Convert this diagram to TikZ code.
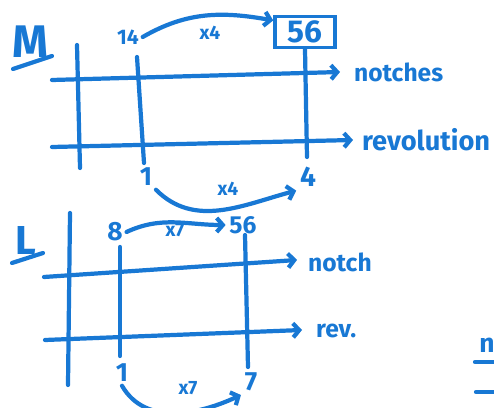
\documentclass[tikz,border=0pt]{standalone}
\usepackage{fontspec}
\setmainfont{Fira Sans}
\usetikzlibrary{arrows.meta}

\definecolor{marker}{RGB}{24,120,212}

\tikzset{
  stroke/.style={marker,line width=2.4pt,line cap=round},
  tip/.style={-{Straight Barb[length=3.5pt,width=8pt]}},
  num/.style={marker,font=\fontsize{#1}{#1}\selectfont\bfseries,inner sep=2pt},
  num/.default=14,
  word/.style={marker,font=\fontsize{14}{14}\selectfont\bfseries,anchor=west,inner sep=1pt},
  times/.style={marker,font=\fontsize{11}{11}\selectfont\bfseries,inner sep=1pt},
}

\begin{document}
\begin{tikzpicture}[x=0.02cm,y=-0.02cm]
  \useasboundingbox (0,0) rectangle (494,408);
  % M table
  \node[num=26] (mname) at (30,42) {M};
  \draw[stroke] (13,69) -- (52,56);
  \coordinate (mn0) at (52,80);   \coordinate (mn1) at (340,72);
  \coordinate (mr0) at (52,147);  \coordinate (mr1) at (353,140);
  \coordinate (mv0) at (77,45);   \coordinate (mv1) at (80,168);
  \coordinate (mw0) at (137,57);  \coordinate (mw1) at (144,163);
  \coordinate (mu1) at (307,157);
  \draw[stroke,tip] (mn0) -- (mn1);
  \draw[stroke,tip] (mr0) -- (mr1);
  \node[word] (notches) at (352,72) {notches};
  \node[word,font=\fontsize{15.5}{15}\selectfont\bfseries] (revolution) at (360,140) {revolution};
  \draw[stroke] (mv0) -- (mv1);
  \draw[stroke] (mw0) -- (mw1);
  \node[num=12] (m14) at (128,37) {14};
  \node[num=18,draw,line width=2pt,minimum width=1.2cm,minimum height=0.62cm] (m56) at (305,32) {56};
  \draw[stroke] (m56.south) -- (mu1);
  \node[num=15] (m1) at (146,177) {1};
  \node[num=16] (m4) at (308,177) {4};
  % x4 arrows
  \draw[stroke,tip] (m14.east) to[out=30,in=170] (m56.160);
  \node[times] (mx4a) at (210,33) {x4};
  \draw[stroke,tip] (m1.south east) to[out=-45,in=195] (m4.south west);
  \node[times] (mx4b) at (228,189) {x4};

  % L table
  \node[num=23] (lname) at (26,241) {L};
  \draw[stroke] (12,263) -- (43,253);
  \coordinate (ln0) at (44,277);  \coordinate (ln1) at (297,260);
  \coordinate (lr0) at (45,340);  \coordinate (lr1) at (302,330);
  \coordinate (lv0) at (70,213);  \coordinate (lv1) at (68,385);
  \coordinate (lw0) at (120,247); \coordinate (lw1) at (120,356);
  \coordinate (lu0) at (245,235); \coordinate (lu1) at (248,367);
  \draw[stroke,tip] (ln0) -- (ln1);
  \draw[stroke,tip] (lr0) -- (lr1);
  \node[word] (notch) at (306,262) {notch};
  \node[word] (rev) at (314,331) {rev.};
  \draw[stroke] (lv0) -- (lv1);
  \draw[stroke] (lw0) -- (lw1);
  \draw[stroke] (lu0) -- (lu1);
  \node[num=15] (l8) at (115,232) {8};
  \node[num=14] (l56) at (243,225) {56};
  \node[num=15] (l1) at (122,373) {1};
  \node[num=15] (l7) at (251,382) {7};
  % x7 arrows
  \draw[stroke,tip] (l8.east) to[out=25,in=180] (l56.west);
  \node[times] (lx7a) at (175,230) {x7};
  \draw[stroke,tip] (l1.south) to[out=-60,in=205] (l7.south west);
  \node[times] (lx7b) at (188,388) {x7};

  % cut-off note
  \node[num=15] (ncut) at (487,345) {n};
  \draw[stroke] (475,362) -- (500,362);
  \draw[stroke] (476,392) -- (500,392);
\end{tikzpicture}
\end{document}
